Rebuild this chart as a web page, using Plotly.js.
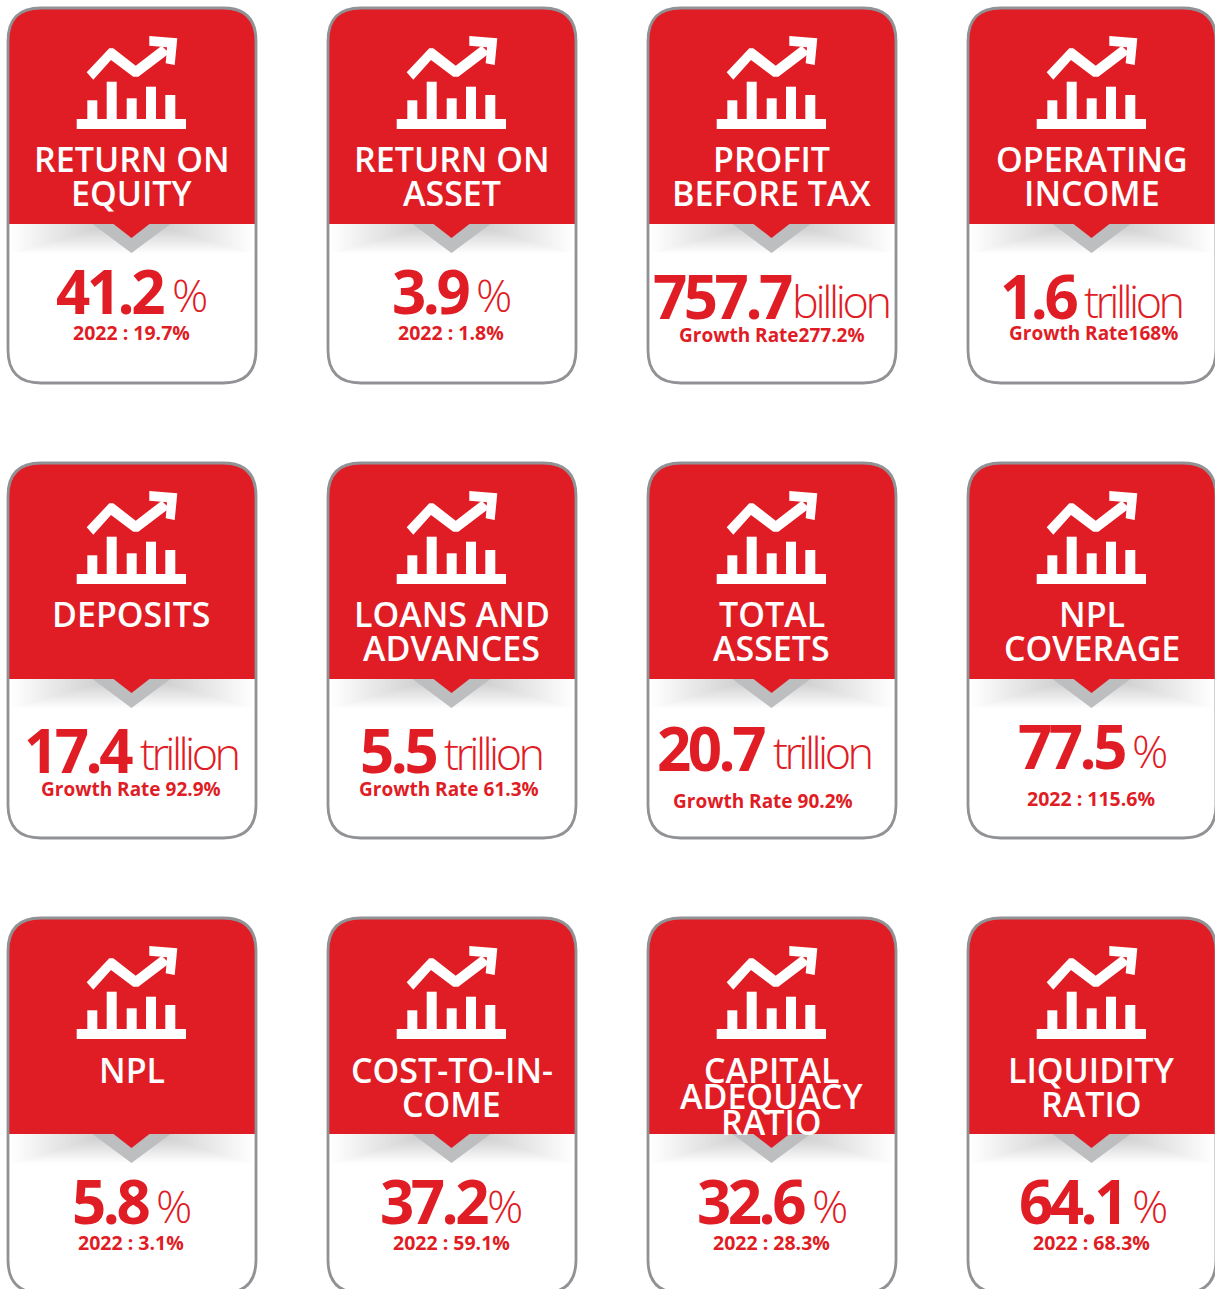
<!DOCTYPE html>
<html><head><meta charset="utf-8">
<script src="https://cdn.plot.ly/plotly-3.0.1.min.js"></script>
<style>html,body{margin:0;padding:0;background:#fff}#c{width:1215px;height:1289px}</style>
</head><body><div id="c"></div>
<script>
// ---- content
const titles=[["RETURN ON","EQUITY"],["RETURN ON","ASSET"],["PROFIT","BEFORE TAX"],["OPERATING","INCOME"],
["DEPOSITS"],["LOANS AND","ADVANCES"],["TOTAL","ASSETS"],["NPL","COVERAGE"],
["NPL"],["COST-TO-IN-","COME"],["CAPITAL","ADEQUACY","RATIO"],["LIQUIDITY","RATIO"]];
const values=["41.2","3.9","757.7","1.6","17.4","5.5","20.7","77.5","5.8","37.2","32.6","64.1"];
const units=["%","%","billion","trillion","trillion","trillion","trillion","%","%","%","%","%"];
const notes=["2022 : 19.7%","2022 : 1.8%","Growth Rate277.2%","Growth Rate168%","Growth Rate 92.9%","Growth Rate 61.3%","Growth Rate 90.2%","2022 : 115.6%","2022 : 3.1%","2022 : 59.1%","2022 : 28.3%","2022 : 68.3%"];
// ---- layout
const colLeft=[8,328,648,968], rowTop=[8,463,918];
const numRight=[166,471,794,1079,135,438,767,1127,151,490,807,1127];
const unitLeft=[170,474,790,1082,138,442,771,1130,154,485,810,1130];
const numY=[290.5,290.5,295.5,295.5,749.5,749.5,747.5,745.5,1200.5,1200.5,1200.5,1200.5];
const unitY=[294,294,300,300,752,752,751,750,1205,1205,1205,1205];
const noteX=[131,451,772,1093,131,449,763,1091,131,451,771,1091];
const noteY=[332,332,335,333,789,789,801,798,1242,1242,1242,1242];
const RED="#e01d25",GREY="#909295";
const W=248,H=375,R=33,SPLIT=216;
const shapes=[],ann=[];
const P=(pts)=>"M"+pts.map(p=>p[0]+","+p[1]).join("L")+"Z";
const cardPath=(x,y,w,h,r)=>`M${x+r},${y}H${x+w-r}Q${x+w},${y} ${x+w},${y+r}V${y+h-r}Q${x+w},${y+h} ${x+w-r},${y+h}H${x+r}Q${x},${y+h} ${x},${y+h-r}V${y+r}Q${x},${y} ${x+r},${y}Z`;
const headPath=(x,y,w,h,r)=>`M${x+r},${y}H${x+w-r}Q${x+w},${y} ${x+w},${y+r}V${y+h}H${x}V${y+r}Q${x},${y} ${x+r},${y}Z`;
const fill=(path,color,op)=>shapes.push({type:"path",path,fillcolor:color,opacity:op==null?1:op,line:{width:0},layer:"above"});
const iconBars=[[79.3,92.3],[98.7,73.7],[118.7,90.3],[138,78.7],[157.3,87]];
const iconLine=[[78.7,64.3],[101.3,40.3],[105.3,40.3],[127.7,57.7],[153.7,37.7],[161.3,45.3],[130.3,68.7],[125.3,68.7],[103,52],[85.3,71.7]];
const iconHead=[[141.3,28],[169.3,30.3],[166.7,57],[157.7,55.3],[159,39.3],[141.3,37.7]];
const shift=(pts,x,y)=>pts.map(p=>[x+p[0],y+p[1]]);
titles.forEach((t,i)=>{
  const x=colLeft[i%4],y=rowTop[Math.floor(i/4)],cx=x+123.5;
  fill(cardPath(x,y,W,H,R),"#ffffff");
  for(let k=1;k<26;k++){
    const inset=1+k*3.8,h=30-k*1.1;
    shapes.push({type:"rect",x0:x+inset,x1:x+W-inset,y0:y+SPLIT,y1:y+SPLIT+h,fillcolor:"#77797b",opacity:0.016,line:{width:0},layer:"above"});
  }
  fill(headPath(x,y,W,SPLIT,R),RED);
  fill(P([[cx-39,y+SPLIT],[cx+39,y+SPLIT],[cx,y+SPLIT+29]]),"#bcbec0");
  fill(P([[cx-18,y+SPLIT],[cx+18,y+SPLIT],[cx,y+SPLIT+14]]),RED);
  fill(P([[x+68.7,y+111],[x+178,y+111],[x+178,y+121],[x+68.7,y+121]]),"#fff");
  iconBars.forEach(b=>fill(P([[x+b[0],y+b[1]],[x+b[0]+10,y+b[1]],[x+b[0]+10,y+112],[x+b[0],y+112]]),"#fff"));
  fill(P(shift(iconLine,x,y)),"#fff");
  fill(P(shift(iconHead,x,y)),"#fff");
  shapes.push({type:"path",path:cardPath(x,y,W,H,R),fillcolor:"rgba(0,0,0,0)",line:{color:GREY,width:2.8},layer:"above"});
  const n=t.length,step=n===3?26:34,rowAdj=i>=8?1:0;
  t.forEach((line,j)=>{
    const ty=n===1?y+151+rowAdj:(n===2?y+151+rowAdj+j*step:y+152+j*step);
    ann.push({x:cx,y:ty,text:line,showarrow:false,xanchor:"center",yanchor:"middle",
      font:{family:"Open Sans",size:34,color:"#fff",weight:600}});
  });
  ann.push({x:numRight[i],y:numY[i],text:`<span style="letter-spacing:-3.5px">${values[i]}</span>`,showarrow:false,xanchor:"right",yanchor:"middle",
    font:{family:"Open Sans",size:60,color:RED,weight:700}});
  const track=units[i]==="%"?-2.5:(units[i]==="billion"?-3.4:-3.6);
  ann.push({x:unitLeft[i],y:unitY[i],text:`<span style="letter-spacing:${track}px">${units[i]}</span>`,showarrow:false,xanchor:"left",yanchor:"middle",
    font:{family:"Open Sans",size:45,color:RED,weight:300}});
  ann.push({x:noteX[i],y:noteY[i],text:notes[i],showarrow:false,xanchor:"center",yanchor:"middle",
    font:{family:"Open Sans",size:notes[i].startsWith("2022")?19.5:19,color:RED,weight:700}});
});
Plotly.newPlot("c",[],{
  width:1215,height:1289,margin:{l:0,r:0,t:0,b:0},
  paper_bgcolor:"#fff",plot_bgcolor:"#fff",showlegend:false,
  xaxis:{range:[0,1215],visible:false,fixedrange:true},yaxis:{range:[1289,0],visible:false,fixedrange:true},
  shapes,annotations:ann
},{staticPlot:true});
</script></body></html>
